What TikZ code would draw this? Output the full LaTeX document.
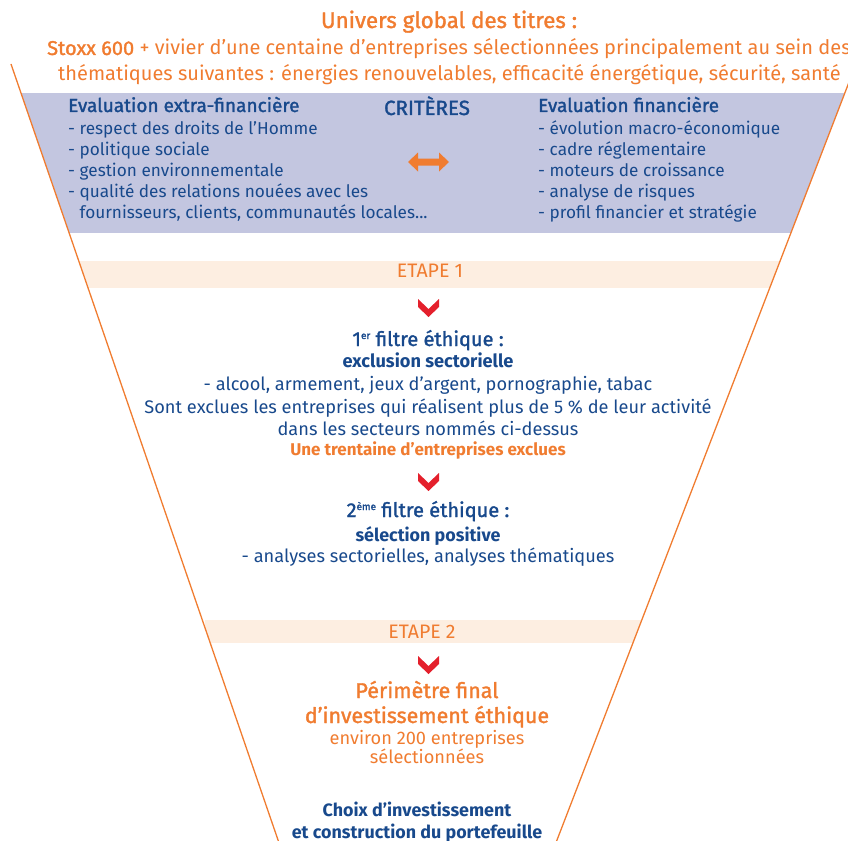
\documentclass[tikz,border=0pt]{standalone}
\usepackage{fontspec}
\setmainfont{Fira Sans}
\newfontfamily\medium{Fira Sans}[FakeBold=1.5]

\definecolor{orangeis}{RGB}{240,124,48}
\definecolor{bleuis}{RGB}{24,73,140}
\definecolor{lavande}{RGB}{195,198,224}
\definecolor{peche}{RGB}{253,238,225}
\definecolor{rougeis}{RGB}{228,32,44}

\newcommand{\fs}[2]{\fontsize{#1}{#2}\selectfont}

\tikzset{
  every node/.style={inner sep=0pt},
  grand/.style={text=orangeis, font=\medium\fs{22.3}{26}},
  univers/.style={text=orangeis, font=\fs{20}{26}},
  critere/.style={text=bleuis, font=\fs{17.2}{21}, align=left, anchor=base west},
  entete/.style={text=bleuis, font=\medium\fs{19}{21}, anchor=base west},
  etape/.style={text=orangeis, font=\fs{19.5}{21}},
  filtre/.style={text=bleuis, font=\medium\fs{20}{24}},
  detail/.style={text=bleuis, font=\fs{18.2}{21}},
  fort/.style={text=bleuis, font=\bfseries\fs{17.9}{21}},
  perim/.style={text=orangeis, font=\medium\fs{21.4}{25}},
}

\begin{document}
\begin{tikzpicture}[x=1pt,y=-1pt]
  \useasboundingbox (0,0) rectangle (848,840);
  \clip (0,0) rectangle (848,840);

  % funnel edges
  \coordinate (lt) at (11,64);
  \coordinate (rt) at (856,64);
  \coordinate (lb) at (284.9,860);
  \coordinate (rb) at (549.3,860);

  % bands inside the funnel
  \begin{scope}
    \clip (lt) -- (rt) -- (rb) -- (lb) -- cycle;
    \fill[lavande] (0,93) rectangle (900,233);
    \fill[peche] (80,261) rectangle (900,288);
    \fill[peche] (205,620) rectangle (900,643);
  \end{scope}

  \draw[orangeis, line width=1.3pt] (lt) -- (lb);
  \draw[orangeis, line width=1.3pt] (rt) -- (rb);

  % header
  \node[grand, anchor=base] (univers) at (449,28) {Univers global des titres :};
  \node[univers, anchor=base west] (stoxx) at (47,55)
    {{\medium Stoxx 600} + vivier d’une centaine d’entreprises sélectionnées principalement au sein des};
  \node[univers, anchor=base west] (themes) at (58,81)
    {thématiques suivantes : énergies renouvelables, efficacité énergétique, sécurité, santé};

  % criteria (lists sit on the baseline of their last line)
  \node[entete] (extra) at (68,112) {Evaluation extra-financière};
  \node[critere] (extraliste) at (68,218)
    {- respect des droits de l’Homme\\
     - politique sociale\\
     - gestion environnementale\\
     - qualité des relations nouées avec les\\
     \hphantom{- }fournisseurs, clients, communautés locales...};
  \node[entete, font=\medium\fs{20.5}{21}, anchor=base] (criteres) at (427,115) {CRITÈRES};
  \node[entete] (fin) at (538,112) {Evaluation financière};
  \node[critere] (finliste) at (538,218)
    {- évolution macro-économique\\
     - cadre réglementaire\\
     - moteurs de croissance\\
     - analyse de risques\\
     - profil financier et stratégie};
  \fill[orangeis] (408,162) -- (418,152.5) -- (418,158.5) -- (439,158.5) -- (439,152.5)
    -- (449,162) -- (439,171.5) -- (439,165.5) -- (418,165.5) -- (418,171.5) -- cycle;

  % steps
  \node[etape, anchor=base] (etape1) at (430,277) {ETAPE 1};
  \node[etape, anchor=base] (etape2) at (422,638) {ETAPE 2};

  \foreach \cy in {308,482,665}
    \fill[rougeis] (418,{\cy-9}) -- (428.5,{\cy+1}) -- (439,{\cy-9}) -- (439,{\cy-1})
      -- (428.5,{\cy+9}) -- (418,{\cy-1}) -- cycle;

  % first filter
  \node[filtre, anchor=base] (filtre1) at (428,346) {1\raisebox{7pt}{\fs{10}{10}er} filtre éthique :};
  \node[fort, font=\bfseries\fs{18.2}{21}, anchor=base] (exclusion) at (428,367) {exclusion sectorielle};
  \node[detail, anchor=base] (secteurs) at (428,390) {- alcool, armement, jeux d’argent, pornographie, tabac};
  \node[detail, anchor=base] (seuil) at (428,413) {Sont exclues les entreprises qui réalisent plus de 5 \% de leur activité};
  \node[detail, anchor=base] (nommes) at (428,435) {dans les secteurs nommés ci-dessus};
  \node[fort, font=\bfseries\fs{17}{21}, text=orangeis, anchor=base] (exclues) at (428,455) {Une trentaine d’entreprises exclues};

  % second filter
  \node[filtre, anchor=base] (filtre2) at (428,517) {2\raisebox{7pt}{\fs{10}{10}ème} filtre éthique :};
  \node[fort, anchor=base] (positive) at (428,541) {sélection positive};
  \node[detail, anchor=base] (analyses) at (428,562) {- analyses sectorielles, analyses thématiques};

  % final perimeter
  \node[perim, anchor=base] (perimetre) at (427,698) {Périmètre final};
  \node[perim, anchor=base] (invest) at (427,723) {d’investissement éthique};
  \node[detail, text=orangeis, anchor=base] (environ) at (427,744) {environ 200 entreprises};
  \node[detail, text=orangeis, anchor=base] (selection) at (427,763) {sélectionnées};

  \node[fort, anchor=base] (choix) at (417,816) {Choix d’investissement};
  \node[fort, anchor=base] (portef) at (417,838) {et construction du portefeuille};
\end{tikzpicture}
\end{document}
